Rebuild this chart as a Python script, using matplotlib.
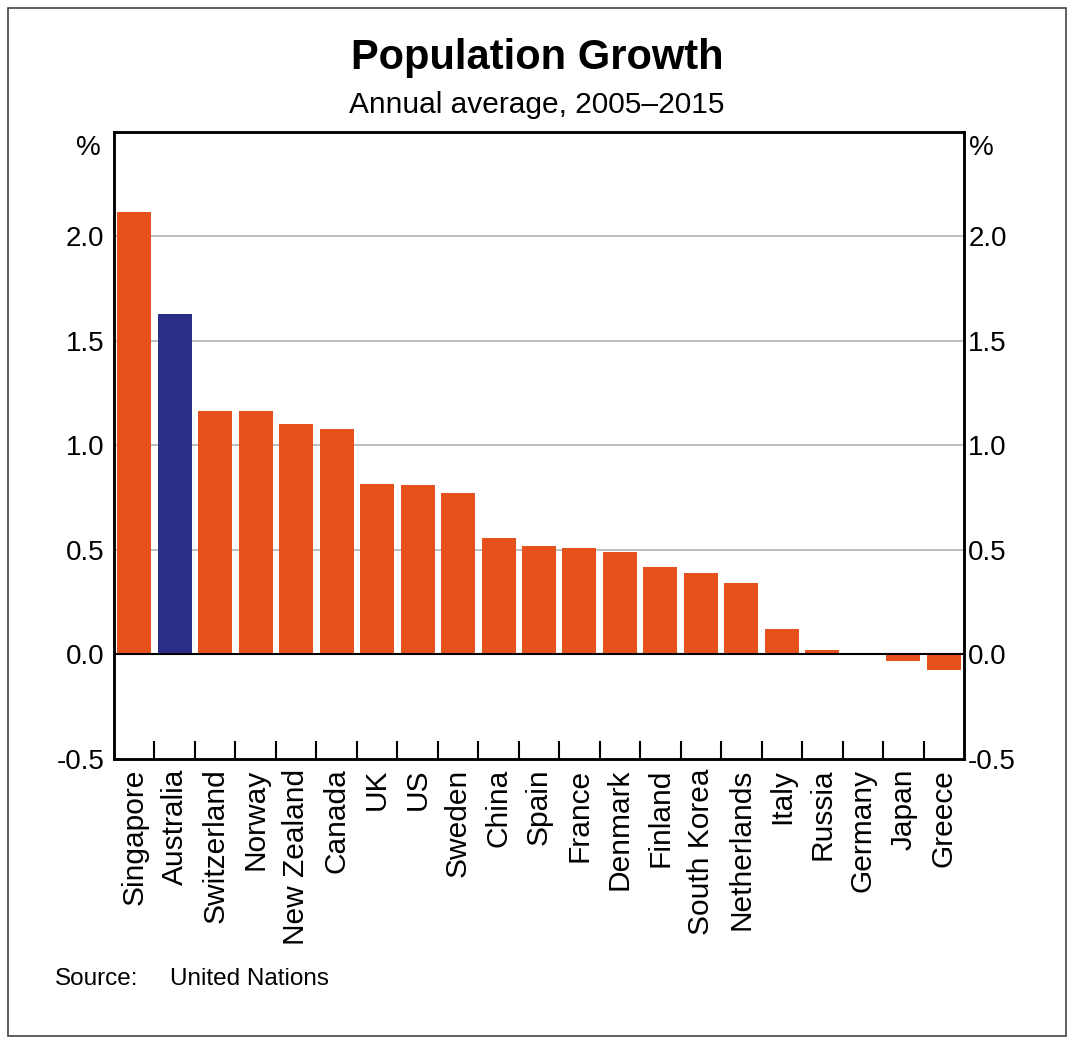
import numpy as np
import matplotlib
matplotlib.use("Agg")
from matplotlib import pyplot as plt
from matplotlib.patches import Rectangle

plt.rcParams['font.family'] = ['Liberation Sans', 'DejaVu Sans']

countries = ["Singapore", "Australia", "Switzerland", "Norway", "New Zealand",
             "Canada", "UK", "US", "Sweden", "China", "Spain", "France",
             "Denmark", "Finland", "South Korea", "Netherlands", "Italy",
             "Russia", "Germany", "Japan", "Greece"]
growth = [2.115, 1.63, 1.167, 1.167, 1.105, 1.08, 0.818, 0.809, 0.775, 0.555,
          0.52, 0.51, 0.488, 0.42, 0.388, 0.344, 0.124, 0.02, -0.002, -0.03,
          -0.072]
highlight = "Australia"
yticks = [-0.5, 0.0, 0.5, 1.0, 1.5, 2.0]

orange = '#E5501B'
navy = '#2B2E88'

fig = plt.figure(figsize=(10.74, 10.44), dpi=100)
ax = fig.add_axes([0.1061, 0.273, 0.7915, 0.6006])

x = np.arange(len(countries))
colors = [navy if c == highlight else orange for c in countries]
ax.bar(x, growth, width=0.84, color=colors, zorder=2)

ax.set_xlim(-0.5, len(countries) - 0.5)
ax.set_ylim(-0.5, 2.5)
ax.set_yticks(yticks)
ax.set_yticklabels(['%.1f' % v for v in yticks], fontsize=20)
ax.tick_params(axis='y', length=0, pad=7)

# right hand axis, same scale
ax2 = ax.twinx()
ax2.set_ylim(ax.get_ylim())
ax2.set_yticks(yticks)
ax2.set_yticklabels(['%.1f' % v for v in yticks], fontsize=20)
ax2.tick_params(axis='y', length=0, pad=3)

for v in [0.5, 1.0, 1.5, 2.0]:
    ax.axhline(v, color='#b4b4b4', lw=1.2, zorder=1)
ax.axhline(0, color='black', lw=1.5, zorder=3)

# category ticks at boundaries, labels centred
ax.set_xticks(x[:-1] + 0.5)
ax.set_xticklabels([])
ax.set_xticks(x, minor=True)
ax.set_xticklabels(countries, minor=True, rotation=90, fontsize=21.5)
ax.tick_params(axis='x', which='major', direction='in', length=13, width=1.5)
ax.tick_params(axis='x', which='minor', length=0, pad=7)

for a in (ax, ax2):
    for s in a.spines.values():
        s.set_linewidth(1.8)

fig.text(0.1061 - 0.012, 0.858, '%', fontsize=20, ha='right', va='center')
fig.text(0.8976 + 0.005, 0.858, '%', fontsize=20, ha='left', va='center')

fig.text(0.5, 0.944, 'Population Growth', fontsize=30, fontweight='bold',
         ha='center', va='center')
fig.text(0.5, 0.899, 'Annual average, 2005\u20132015', fontsize=21.5,
         ha='center', va='center')

fig.text(0.051, 0.062, 'Source:', fontsize=17.5, ha='left', va='center')
fig.text(0.158, 0.062, 'United Nations', fontsize=17.5, ha='left', va='center')

fig.patches.append(Rectangle((8 / 1074, 8 / 1044), 1058 / 1074, 1028 / 1044,
                             transform=fig.transFigure, fill=False,
                             edgecolor='#444444', lw=1.2))

fig.savefig('out.png', dpi=100)
